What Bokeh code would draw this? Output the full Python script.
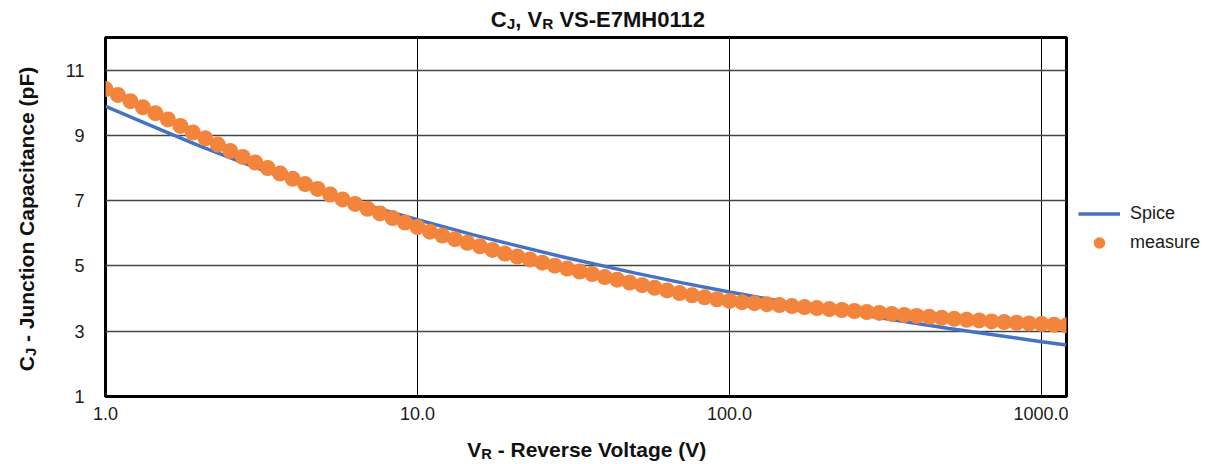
import math
from bokeh.plotting import figure
from bokeh.layouts import column, row
from bokeh.models import Range1d, FixedTicker, CustomJSTickFormatter, Label, Legend, LegendItem
from bokeh.embed import file_html
from bokeh.resources import INLINE

# ---------------- data ----------------
voltage = [1.0, 1.096, 1.202, 1.318, 1.445, 1.585, 1.738, 1.905, 2.089, 2.291,
           2.512, 2.754, 3.02, 3.311, 3.631, 3.981, 4.365, 4.786, 5.248, 5.754,
           6.31, 6.918, 7.586, 8.318, 9.12, 10.0, 10.96, 12.02, 13.18, 14.45,
           15.85, 17.38, 19.05, 20.89, 22.91, 25.12, 27.54, 30.2, 33.11, 36.31,
           39.81, 43.65, 47.86, 52.48, 57.54, 63.1, 69.18, 75.86, 83.18, 91.2,
           100.0, 109.6, 120.2, 131.8, 144.5, 158.5, 173.8, 190.5, 208.9, 229.1,
           251.2, 275.4, 302.0, 331.1, 363.1, 398.1, 436.5, 478.6, 524.8, 575.4,
           631.0, 691.8, 758.6, 831.8, 912.0, 1000.0, 1096.0, 1202.0]
measure = [10.42, 10.24, 10.05, 9.86, 9.68, 9.49, 9.29, 9.09, 8.91, 8.72,
           8.52, 8.34, 8.17, 8.0, 7.83, 7.67, 7.51, 7.36, 7.19, 7.04,
           6.9, 6.75, 6.61, 6.47, 6.33, 6.19, 6.05, 5.93, 5.82, 5.71,
           5.6, 5.49, 5.38, 5.29, 5.2, 5.1, 5.01, 4.92, 4.83, 4.75,
           4.66, 4.58, 4.49, 4.41, 4.33, 4.25, 4.17, 4.1, 4.04, 3.98,
           3.93, 3.89, 3.86, 3.83, 3.8, 3.77, 3.74, 3.71, 3.68, 3.65,
           3.62, 3.59, 3.56, 3.53, 3.5, 3.47, 3.44, 3.41, 3.38, 3.35,
           3.33, 3.3, 3.28, 3.26, 3.24, 3.22, 3.2, 3.18]
spice_v = [1, 1.5, 2, 3, 5, 7, 10, 15, 20, 30, 50, 70, 100, 150, 200, 300, 500, 700, 1000, 1202]
spice_c = [9.89, 9.18, 8.68, 8.03, 7.28, 6.84, 6.42, 5.96, 5.66, 5.25, 4.78, 4.49, 4.2, 3.9, 3.7, 3.42, 3.09, 2.89, 2.68, 2.58]
x_ticks = [1, 10, 100, 1000]
y_ticks = [1, 3, 5, 7, 9, 11]
series_names = ["Spice", "measure"]

FONT = "Liberation Sans"
TXT = "#111111"

# canvas layout (px)
W, H = 1209, 464
TITLE_H = 35          # title strip
MID_H = 395           # main plot strip (frame top at 37, bottom at 396)
XLAB_H = H - TITLE_H - MID_H
YLAB_W = 45
MAIN_W = 1023         # frame from x=105 to x=1066
LEG_W = W - YLAB_W - MAIN_W
BASE_FIX = 6          # compensation for label baseline placement


def text_fig(w, h, xr=None, yr=None):
    f = figure(frame_width=w, frame_height=h, x_axis_type=None, y_axis_type=None, toolbar_location=None,
               output_backend="svg", min_border=0, title=None,
               x_range=xr or Range1d(0, w), y_range=yr or Range1d(0, h))
    f.outline_line_color = None
    f.background_fill_color = "white"
    f.border_fill_color = "white"
    return f


# ---------------- main plot ----------------
p = figure(frame_width=961, frame_height=359, x_axis_type="log", output_backend="svg", toolbar_location=None,
           x_range=Range1d(1, 1202), y_range=Range1d(1, 12), title=None,
           min_border_left=60, min_border_right=2, min_border_top=2, min_border_bottom=34)
p.background_fill_color = "white"
p.border_fill_color = "white"
p.outline_line_color = "black"
p.outline_line_width = 3

p.xaxis.ticker = FixedTicker(ticks=x_ticks)
p.xaxis.formatter = CustomJSTickFormatter(code="return tick.toFixed(1);")
p.yaxis.ticker = FixedTicker(ticks=y_ticks)
for ax in (p.xaxis[0], p.yaxis[0]):
    ax.axis_line_color = None
    ax.major_tick_line_color = None
    ax.minor_tick_line_color = None
    ax.major_tick_out = 0
    ax.major_tick_in = 0
    ax.major_label_text_font = FONT
    ax.major_label_text_font_size = "18px"
    ax.major_label_text_color = "#1a1a1a"
p.xaxis.major_label_standoff = 10
p.yaxis.major_label_standoff = 21

p.xgrid.grid_line_color = "black"
p.xgrid.grid_line_width = 1
p.ygrid.grid_line_color = "#444444"
p.ygrid.grid_line_width = 1.5

SPICE_STYLE = dict(line_color="#4472c4", line_width=3.5)
MEAS_STYLE = dict(fill_color="#f2843c", line_color=None)
p.line(spice_v, spice_c, **SPICE_STYLE)
p.scatter(voltage, measure, size=16, **MEAS_STYLE)

# ---------------- legend strip ----------------
# same series drawn again, but this strip's ranges keep them out of view: only the legend shows
lf = figure(width=LEG_W, height=MID_H, x_axis_type=None, y_axis_type=None, toolbar_location=None,
            output_backend="svg", min_border=0, title=None,
            x_range=Range1d(-10000, -10000 + LEG_W), y_range=Range1d(-10000, -10000 + MID_H))
lf.outline_line_color = None
lf.background_fill_color = "white"
lf.border_fill_color = "white"
l_line = lf.line(spice_v, spice_c, **SPICE_STYLE)
l_dot = lf.scatter(voltage, measure, size=13, **MEAS_STYLE)
legend = Legend(items=[LegendItem(label=series_names[0], renderers=[l_line]),
                       LegendItem(label=series_names[1], renderers=[l_dot])],
                location=(10, 139), orientation="vertical",
                glyph_width=42, glyph_height=29, label_height=29, spacing=0,
                label_standoff=10, padding=0, margin=0,
                border_line_color=None, background_fill_alpha=0,
                label_text_font=FONT, label_text_font_size="18px", label_text_color="#1a1a1a")
lf.add_layout(legend)

# ------------- rich text (subscripts) -------------
WID = {' ': 278, ',': 278, '-': 333, '(': 333, ')': 333, '.': 278, 'C': 722, 'E': 667,
       'F': 611, 'H': 722, 'J': 556, 'M': 833, 'R': 722, 'S': 667, 'V': 667, 'a': 556,
       'c': 556, 'e': 556, 'g': 611, 'i': 278, 'l': 278, 'n': 611, 'o': 611, 'p': 611,
       'r': 389, 's': 556, 't': 333, 'u': 611, 'v': 556}


def tw(s, size):
    return sum(WID.get(ch, 556) for ch in s) * size / 1000.0


def rich(f, pieces, center, base, vertical=False):
    """pieces: (text, size, shift_down). center = along-text center, base = baseline (fig coords, y up)."""
    total = sum(tw(t, s) for t, s, _ in pieces)
    pos = center - total / 2
    for t, s, d in pieces:
        stripped = t.lstrip(" ")
        pos += tw(t[:len(t) - len(stripped)], s)
        kw = dict(x_units="screen", y_units="screen", text=stripped, text_align="left",
                  text_baseline="alphabetic", text_font=FONT, text_font_style="bold",
                  text_font_size=f"{s:.1f}px", text_color=TXT)
        if vertical:
            f.add_layout(Label(x=base + d - BASE_FIX, y=pos, angle=math.pi / 2, **kw))
        else:
            f.add_layout(Label(x=pos, y=base - d + BASE_FIX, **kw))
        pos += tw(stripped, s)


TS, AS = 22, 21
tf = text_fig(W, TITLE_H)
rich(tf, [("C", TS, 0), ("J", 0.7 * TS, 4), (", V", TS, 0), ("R", 0.7 * TS, 4), (" VS-E7MH0112", TS, 0)],
     598, TITLE_H - 25)

xf = text_fig(W, XLAB_H)
rich(xf, [("V", AS, 0), ("R", 0.7 * AS, 4), (" - Reverse Voltage (V)", AS, 0)], 587, XLAB_H - (455 - TITLE_H - MID_H))

yf = text_fig(YLAB_W, MID_H)
rich(yf, [("C", AS, 0), ("J", 0.7 * AS, 4), (" - Junction Capacitance (pF)", AS, 0)],
     (TITLE_H + MID_H) - 216.5, 32, vertical=True)

layout = column(tf, row(yf, p, lf), xf)
open("out.html", "w").write(file_html(layout, INLINE))
